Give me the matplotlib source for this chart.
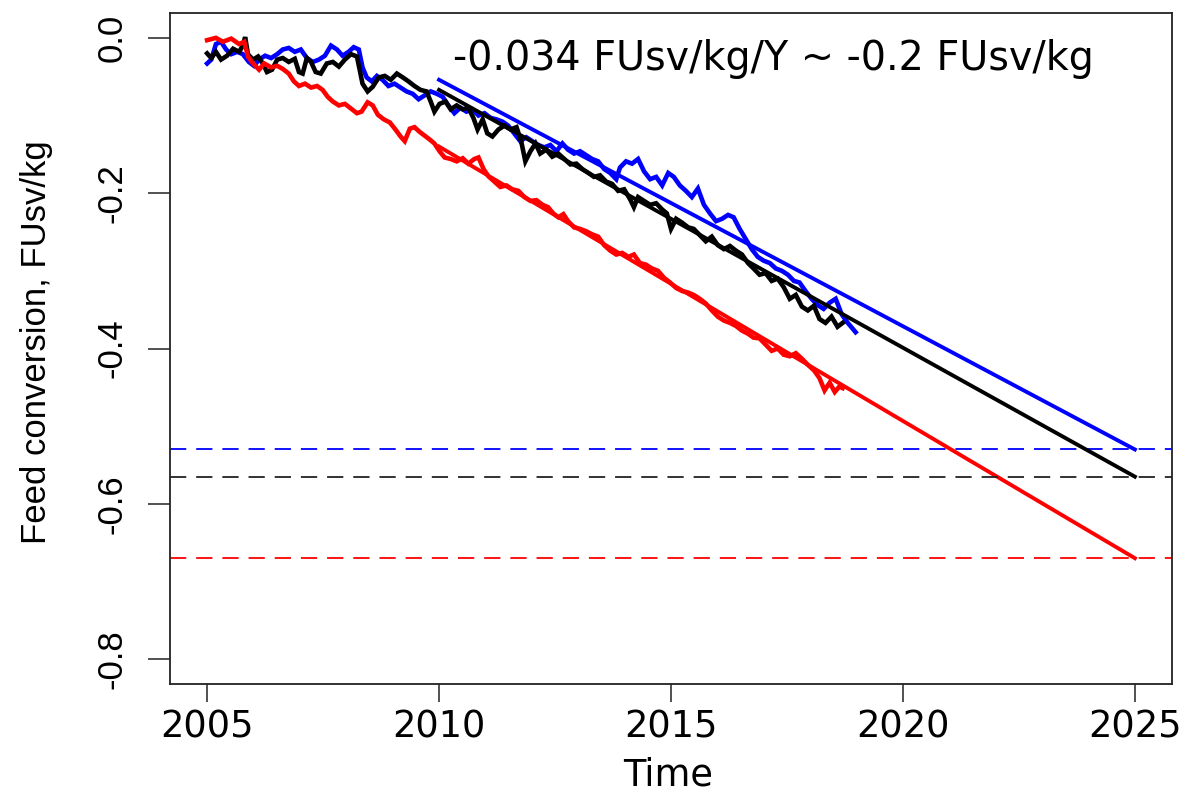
import matplotlib
matplotlib.use("Agg")
import matplotlib.pyplot as plt

plt.rcParams['font.family'] = ['Liberation Sans', 'DejaVu Sans']

# ---------------- data ----------------
red_years = [2005.00, 2005.19, 2005.34, 2005.52, 2005.69, 2005.80, 2005.88, 2005.99, 2006.12, 2006.23,
             2006.38, 2006.51, 2006.63, 2006.76, 2006.87, 2006.98, 2007.11, 2007.24, 2007.37, 2007.49,
             2007.60, 2007.71, 2007.84, 2007.97, 2008.10, 2008.23, 2008.33, 2008.46, 2008.57, 2008.68,
             2008.81, 2008.94, 2009.06, 2009.17, 2009.26, 2009.37, 2009.47, 2009.58, 2009.69, 2009.80,
             2009.90, 2010.01, 2010.12, 2010.25, 2010.38, 2010.51, 2010.63, 2010.76, 2010.85, 2010.96,
             2011.06, 2011.19, 2011.32, 2011.45, 2011.58, 2011.71, 2011.84, 2011.97, 2012.10, 2012.23,
             2012.35, 2012.46, 2012.57, 2012.68, 2012.78, 2012.91, 2013.04, 2013.17, 2013.30, 2013.43,
             2013.56, 2013.69, 2013.82, 2013.95, 2014.08, 2014.20, 2014.33, 2014.46, 2014.59, 2014.72,
             2014.85, 2014.98, 2015.11, 2015.24, 2015.37, 2015.49, 2015.62, 2015.75, 2015.88, 2016.01,
             2016.14, 2016.27, 2016.40, 2016.53, 2016.66, 2016.78, 2016.91, 2017.04, 2017.17, 2017.30,
             2017.43, 2017.56, 2017.69, 2017.82, 2017.95, 2018.08, 2018.20, 2018.31, 2018.42, 2018.53,
             2018.63, 2018.70]
red_values = [-0.003, 0.000, -0.005, -0.001, -0.008, -0.005, -0.024, -0.033, -0.041, -0.033,
              -0.038, -0.036, -0.040, -0.046, -0.056, -0.062, -0.059, -0.064, -0.062, -0.067,
              -0.076, -0.082, -0.087, -0.085, -0.091, -0.097, -0.095, -0.083, -0.087, -0.099,
              -0.105, -0.109, -0.118, -0.127, -0.133, -0.117, -0.115, -0.121, -0.126, -0.131,
              -0.136, -0.146, -0.154, -0.156, -0.159, -0.155, -0.162, -0.156, -0.154, -0.169,
              -0.178, -0.185, -0.192, -0.190, -0.195, -0.197, -0.205, -0.210, -0.209, -0.215,
              -0.218, -0.226, -0.231, -0.227, -0.236, -0.244, -0.246, -0.249, -0.253, -0.256,
              -0.267, -0.274, -0.279, -0.277, -0.282, -0.279, -0.290, -0.292, -0.297, -0.300,
              -0.309, -0.315, -0.322, -0.326, -0.328, -0.331, -0.336, -0.342, -0.351, -0.359,
              -0.364, -0.367, -0.371, -0.377, -0.381, -0.386, -0.387, -0.395, -0.403, -0.400,
              -0.408, -0.410, -0.406, -0.413, -0.421, -0.428, -0.438, -0.454, -0.444, -0.456,
              -0.449, -0.451]

black_years = [2005.00, 2005.09, 2005.19, 2005.30, 2005.43, 2005.56, 2005.69, 2005.77, 2005.82, 2005.88,
               2005.99, 2006.10, 2006.20, 2006.29, 2006.40, 2006.51, 2006.63, 2006.76, 2006.89, 2006.98,
               2007.06, 2007.15, 2007.24, 2007.34, 2007.45, 2007.58, 2007.71, 2007.84, 2007.97, 2008.10,
               2008.23, 2008.35, 2008.46, 2008.57, 2008.70, 2008.83, 2008.96, 2009.09, 2009.22, 2009.34,
               2009.47, 2009.60, 2009.73, 2009.82, 2009.90, 2010.01, 2010.14, 2010.25, 2010.38, 2010.51,
               2010.63, 2010.74, 2010.83, 2010.94, 2011.04, 2011.15, 2011.28, 2011.41, 2011.54, 2011.67,
               2011.77, 2011.86, 2011.97, 2012.08, 2012.18, 2012.31, 2012.44, 2012.57, 2012.70, 2012.83,
               2012.96, 2013.09, 2013.22, 2013.34, 2013.47, 2013.60, 2013.73, 2013.86, 2013.99, 2014.12,
               2014.20, 2014.29, 2014.42, 2014.55, 2014.68, 2014.81, 2014.91, 2015.00, 2015.11, 2015.24,
               2015.37, 2015.49, 2015.62, 2015.75, 2015.88, 2016.01, 2016.14, 2016.27, 2016.40, 2016.53,
               2016.66, 2016.78, 2016.91, 2017.04, 2017.17, 2017.30, 2017.43, 2017.56, 2017.69, 2017.82,
               2017.95, 2018.08, 2018.20, 2018.33, 2018.46, 2018.59, 2018.70]
black_values = [-0.020, -0.026, -0.018, -0.028, -0.023, -0.014, -0.018, -0.010, 0.001, -0.021,
                -0.028, -0.024, -0.033, -0.044, -0.041, -0.028, -0.026, -0.031, -0.027, -0.044,
                -0.046, -0.026, -0.031, -0.044, -0.046, -0.033, -0.031, -0.037, -0.028, -0.021,
                -0.024, -0.059, -0.069, -0.063, -0.051, -0.049, -0.054, -0.046, -0.051, -0.056,
                -0.062, -0.067, -0.069, -0.082, -0.095, -0.085, -0.082, -0.092, -0.087, -0.092,
                -0.090, -0.103, -0.118, -0.105, -0.123, -0.127, -0.118, -0.113, -0.118, -0.115,
                -0.133, -0.159, -0.146, -0.136, -0.149, -0.144, -0.153, -0.149, -0.156, -0.163,
                -0.162, -0.169, -0.174, -0.179, -0.177, -0.185, -0.188, -0.197, -0.195, -0.208,
                -0.218, -0.205, -0.210, -0.215, -0.213, -0.221, -0.226, -0.246, -0.233, -0.238,
                -0.244, -0.246, -0.254, -0.262, -0.256, -0.267, -0.272, -0.268, -0.274, -0.279,
                -0.290, -0.297, -0.305, -0.303, -0.313, -0.310, -0.321, -0.336, -0.331, -0.346,
                -0.351, -0.345, -0.362, -0.367, -0.359, -0.372, -0.367]

blue_years = [2005.00, 2005.09, 2005.19, 2005.30, 2005.41, 2005.52, 2005.65, 2005.77, 2005.90, 2006.01,
              2006.12, 2006.25, 2006.38, 2006.51, 2006.63, 2006.76, 2006.89, 2007.02, 2007.15, 2007.28,
              2007.41, 2007.54, 2007.67, 2007.80, 2007.92, 2008.05, 2008.16, 2008.27, 2008.35, 2008.44,
              2008.55, 2008.66, 2008.78, 2008.91, 2009.04, 2009.17, 2009.30, 2009.43, 2009.56, 2009.69,
              2009.82, 2009.95, 2010.08, 2010.20, 2010.33, 2010.46, 2010.59, 2010.72, 2010.85, 2010.98,
              2011.11, 2011.24, 2011.37, 2011.49, 2011.62, 2011.75, 2011.88, 2012.01, 2012.14, 2012.27,
              2012.40, 2012.53, 2012.66, 2012.78, 2012.91, 2013.04, 2013.17, 2013.30, 2013.43, 2013.56,
              2013.69, 2013.82, 2013.90, 2014.03, 2014.16, 2014.29, 2014.42, 2014.55, 2014.68, 2014.81,
              2014.94, 2015.06, 2015.19, 2015.32, 2015.45, 2015.58, 2015.71, 2015.84, 2015.97, 2016.10,
              2016.23, 2016.35, 2016.48, 2016.61, 2016.74, 2016.87, 2017.00, 2017.13, 2017.26, 2017.39,
              2017.52, 2017.65, 2017.77, 2017.90, 2018.03, 2018.16, 2018.29, 2018.42, 2018.55, 2018.68,
              2018.81, 2018.91, 2018.98]
blue_values = [-0.033, -0.028, -0.008, -0.005, -0.015, -0.021, -0.018, -0.021, -0.031, -0.036,
               -0.028, -0.023, -0.026, -0.021, -0.015, -0.013, -0.018, -0.015, -0.026, -0.031,
               -0.028, -0.023, -0.010, -0.015, -0.023, -0.018, -0.012, -0.015, -0.038, -0.051,
               -0.056, -0.049, -0.054, -0.062, -0.059, -0.064, -0.069, -0.072, -0.079, -0.074,
               -0.069, -0.072, -0.076, -0.087, -0.097, -0.090, -0.095, -0.092, -0.100, -0.097,
               -0.103, -0.105, -0.108, -0.113, -0.123, -0.133, -0.128, -0.133, -0.138, -0.141,
               -0.138, -0.146, -0.136, -0.144, -0.149, -0.146, -0.151, -0.156, -0.159, -0.169,
               -0.174, -0.182, -0.167, -0.159, -0.162, -0.156, -0.172, -0.182, -0.179, -0.190,
               -0.174, -0.179, -0.190, -0.197, -0.205, -0.194, -0.215, -0.226, -0.236, -0.233,
               -0.228, -0.231, -0.246, -0.259, -0.272, -0.282, -0.287, -0.290, -0.297, -0.300,
               -0.305, -0.313, -0.315, -0.326, -0.336, -0.344, -0.349, -0.341, -0.336, -0.356,
               -0.367, -0.374, -0.379]

# linear trend projections (2010 -> 2025)
trend_years = [2010, 2025]
blue_trend = [-0.054, -0.530]
black_trend = [-0.067, -0.565]
red_trend = [-0.140, -0.670]

# target levels (dashed)
blue_level = -0.530
black_level = -0.565
red_level = -0.670

x_ticks = [2005, 2010, 2015, 2020, 2025]
y_ticks = [-0.8, -0.6, -0.4, -0.2, 0.0]
y_tick_labels = ["-0.8", "-0.6", "-0.4", "-0.2", "0.0"]
annotation = "-0.034 FUsv/kg/Y ~ -0.2 FUsv/kg"

# ---------------- figure ----------------
W, H = 1188, 797
fig = plt.figure(figsize=(W / 100, H / 100), dpi=100)
ax = fig.add_axes([170 / W, (H - 684) / H, (1172 - 170) / W, (684 - 13) / H])

hfont = ['DejaVu Sans']   # wide glyphs for horizontal text (reference is horizontally stretched)

# red projection sits underneath the red series
ax.plot(trend_years, red_trend, color='#FF0000', lw=2.8, zorder=1.5)

lw = 3.3
ax.plot(blue_years, blue_values, color='#0000FF', lw=lw, solid_joinstyle='miter', zorder=2)
ax.plot(black_years, black_values, color='#000000', lw=lw, solid_joinstyle='miter', zorder=2)
ax.plot(red_years, red_values, color='#FF0000', lw=lw, solid_joinstyle='miter', zorder=2)

ax.plot(trend_years, blue_trend, color='#0000FF', lw=2.8, zorder=3)
ax.plot(trend_years, black_trend, color='#000000', lw=2.8, zorder=3)

dash = (0, (9, 5.5))
ax.axhline(blue_level, color='#0000FF', lw=1.3, linestyle=dash)
ax.axhline(black_level, color='#222222', lw=1.3, linestyle=dash)
ax.axhline(red_level, color='#FF0000', lw=1.3, linestyle=dash)

ax.text(2017.2, -0.027, annotation, ha='center', va='center', fontsize=28.5,
        color='black', family=hfont)

ax.set_xlim(2004.2, 2025.8)
ax.set_ylim(-0.832, 0.032)

ax.set_xticks(x_ticks)
ax.set_xticklabels([str(t) for t in x_ticks], fontsize=26.5, family=hfont)
ax.set_yticks(y_ticks)
ax.set_yticklabels(y_tick_labels, fontsize=25, rotation=90, va='center')

ax.tick_params(axis='x', direction='out', length=13, width=1.1, pad=5.0, color='#222222')
ax.tick_params(axis='y', direction='out', length=16, width=1.1, pad=13.9, color='#222222')

for s in ax.spines.values():
    s.set_linewidth(1.3)
    s.set_color('#222222')

ax.set_xlabel("Time", fontsize=26.5, va='center', family=hfont)
ax.xaxis.set_label_coords((668 - 170) / 1002, (684 - 775) / 671)
ax.set_ylabel("Feed conversion, FUsv/kg", fontsize=25, va='center')
ax.yaxis.set_label_coords((37 - 170) / 1002, 0.5 + (348.5 - 342) / 671)

fig.savefig("out.png", dpi=100)
